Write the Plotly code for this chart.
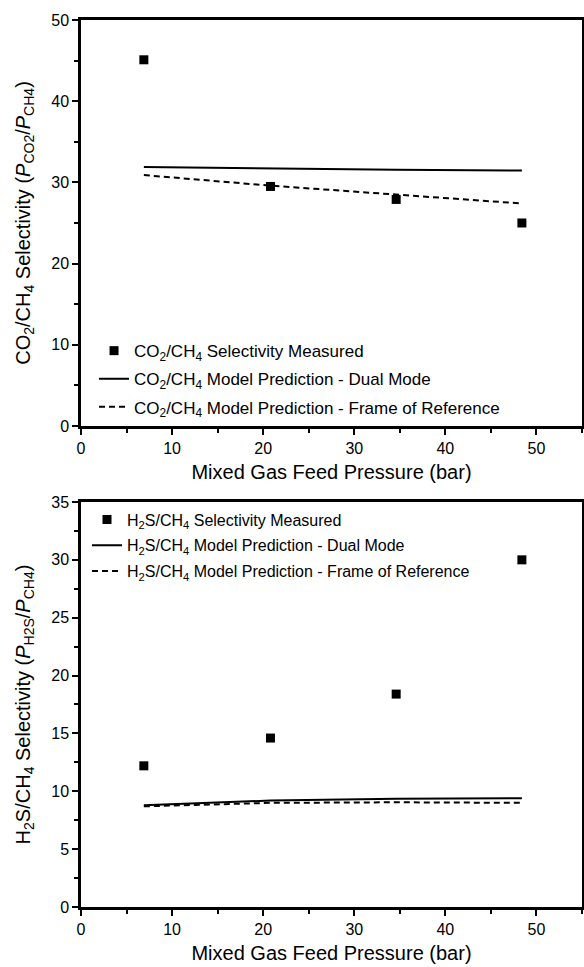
import plotly.graph_objects as go

# feed pressure (bar)
pressure = [6.9, 20.8, 34.6, 48.4]

# CO2/CH4 selectivity
co2_measured = [45.1, 29.5, 27.9, 25.0]
co2_dual_mode = [31.9, 31.7, 31.55, 31.45]
co2_frame_ref = [30.9, 29.6, 28.5, 27.4]

# H2S/CH4 selectivity
h2s_measured = [12.2, 14.6, 18.4, 30.0]
h2s_dual_mode = [8.8, 9.2, 9.35, 9.4]
h2s_frame_ref = [8.7, 9.0, 9.05, 9.0]

FONT = "Arial, Liberation Sans, sans-serif"
CO2 = "CO<sub>2</sub>/CH<sub>4</sub>"
H2S = "H<sub>2</sub>S/CH<sub>4</sub>"

fig = go.Figure()


def add_set(measured, dual, frame, label, xa, ya, legend):
    fig.add_trace(go.Scatter(
        x=pressure, y=measured, mode="markers", xaxis=xa, yaxis=ya,
        legend=legend, legendgroup=legend + "a",
        marker=dict(symbol="square", size=9, color="black"),
        name=f"{label} Selectivity Measured"))
    fig.add_trace(go.Scatter(
        x=pressure, y=dual, mode="lines", xaxis=xa, yaxis=ya,
        legend=legend, legendgroup=legend + "b",
        line=dict(color="black", width=2),
        name=f"{label} Model Prediction - Dual Mode"))
    fig.add_trace(go.Scatter(
        x=pressure, y=frame, mode="lines", xaxis=xa, yaxis=ya,
        legend=legend, legendgroup=legend + "c",
        line=dict(color="black", width=2, dash="6px,4px"),
        name=f"{label} Model Prediction - Frame of Reference"))


add_set(co2_measured, co2_dual_mode, co2_frame_ref, CO2, "x", "y", "legend")
add_set(h2s_measured, h2s_dual_mode, h2s_frame_ref, H2S, "x2", "y2", "legend2")

axis_common = dict(
    showline=True, linecolor="black", linewidth=2.5, mirror=True,
    ticks="outside", ticklen=6, tickwidth=2, tickcolor="black",
    showgrid=False, zeroline=False, automargin=False,
    tickfont=dict(family=FONT, size=16, color="black"),
)
title_font = dict(family=FONT, size=20, color="black")
xaxis = dict(axis_common, range=[0, 55], dtick=10,
             minor=dict(ticks="outside", ticklen=4, tickwidth=2, dtick=5, tickcolor="black"),
             title=dict(text="Mixed Gas Feed Pressure (bar)", font=title_font, standoff=10))

fig.update_layout(
    width=584, height=967,
    margin=dict(l=81, r=2, t=20, b=60),
    paper_bgcolor="white", plot_bgcolor="white",
    font=dict(family=FONT, color="black"),
    xaxis=dict(xaxis, domain=[0, 1], anchor="y"),
    yaxis=dict(axis_common, domain=[0.5423, 1], range=[0, 50], dtick=10, anchor="x",
               minor=dict(ticks="outside", ticklen=4, tickwidth=2, dtick=5, tickcolor="black"),
               title=dict(text=f"{CO2} Selectivity (<i>P</i><sub>CO2</sub>/<i>P</i><sub>CH4</sub>)",
                          font=title_font, standoff=16)),
    xaxis2=dict(xaxis, domain=[0, 1], anchor="y2"),
    yaxis2=dict(axis_common, domain=[0, 0.4566], range=[0, 35], dtick=5, anchor="x2",
                minor=dict(ticks="outside", ticklen=4, tickwidth=2, dtick=2.5, tickcolor="black"),
                title=dict(text=f"{H2S} Selectivity (<i>P</i><sub>H2S</sub>/<i>P</i><sub>CH4</sub>)",
                           font=title_font, standoff=16)),
    legend=dict(x=0.026, y=0.647, xanchor="left", yanchor="top", bgcolor="rgba(0,0,0,0)",
                font=dict(family=FONT, size=17, color="black"), tracegroupgap=3),
    legend2=dict(x=0.012, y=0.456, xanchor="left", yanchor="top", bgcolor="rgba(0,0,0,0)",
                 font=dict(family=FONT, size=16, color="black"), tracegroupgap=2),
)

# page body margin would offset the figure inside the window
fig.write_html("out.html", config={"displayModeBar": False},
               post_script="document.body.style.margin='0';")
